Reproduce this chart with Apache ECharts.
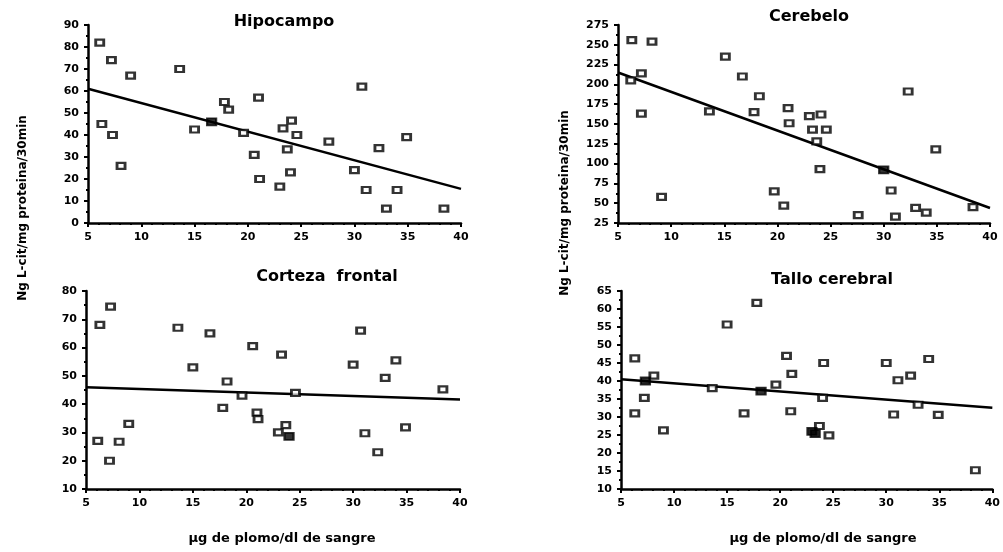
<!DOCTYPE html>
<html>
<head>
<meta charset="utf-8">
<script src="https://cdn.jsdelivr.net/npm/echarts@6/dist/echarts.min.js"></script>
<style>
  html, body {margin: 0; background: #fff;}
  #chart {width: 1003px; height: 552px;}
</style>
</head>
<body>
<div id="chart"></div>
<script>
// blood lead (x) vs L-cit (y), one array per region; solid = points drawn filled
const hipoPts = [[6.1, 82], [7.2, 74], [9.0, 67], [13.6, 70], [6.3, 45], [7.3, 40], [8.1, 26], [15.0, 42.5], [17.8, 55], [18.2, 51.5],
  [19.6, 41], [21.0, 57], [20.6, 31], [21.1, 20], [23.0, 16.5], [23.3, 43], [23.7, 33.5], [24.1, 46.5], [24.0, 23], [24.6, 40],
  [27.6, 37], [30.7, 62], [30.0, 24], [31.1, 15], [32.3, 34], [33.0, 6.5], [34.0, 15], [34.9, 39], [38.4, 6.5]]
const hipoSolid = [[16.6, 46]]
const hipoFit = [[5, 61], [40, 15.5]]

const cerePts = [[6.3, 256], [8.2, 254], [6.2, 205], [7.2, 214], [7.2, 163], [9.1, 58], [13.6, 166], [15.1, 235], [16.7, 210], [17.8, 165],
  [18.3, 185], [19.7, 65], [20.6, 47], [21.0, 170], [21.1, 151], [23.0, 160], [23.3, 143], [23.7, 128], [24.1, 162], [24.0, 93],
  [24.6, 143], [27.6, 35], [30.7, 66], [31.1, 33], [32.3, 191], [33.0, 44], [34.0, 38], [34.9, 118], [38.4, 45]]
const cereSolid = [[30.0, 92]]
const cereFit = [[5, 215], [40, 44]]

const cortPts = [[6.3, 68], [6.1, 27], [7.3, 74.5], [7.2, 20], [8.1, 26.7], [9.0, 33], [13.6, 67], [15.0, 53], [16.6, 65], [17.8, 38.7],
  [18.2, 48], [19.6, 43], [20.6, 60.5], [21.0, 37], [21.1, 34.7], [23.0, 30], [23.3, 57.5], [23.7, 32.6], [24.6, 44], [30.0, 54],
  [30.7, 66], [31.1, 29.7], [32.3, 23], [33.0, 49.3], [34.0, 55.5], [34.9, 31.8], [38.4, 45.2]]
const cortSolid = [[24.0, 28.6]]
const cortFit = [[5, 46], [40, 41.6]]

const talloPts = [[6.3, 46.3], [6.3, 31], [7.2, 35.3], [8.1, 41.5], [9.0, 26.3], [13.6, 38], [15.0, 55.7], [16.6, 31], [17.8, 61.7], [19.6, 39],
  [20.6, 47], [21.1, 42], [21.0, 31.6], [23.7, 27.5], [24.1, 45], [24.0, 35.3], [24.6, 24.9], [30.0, 45], [30.7, 30.7], [31.1, 40.2],
  [32.3, 41.5], [33.0, 33.4], [34.0, 46.1], [34.9, 30.6], [38.4, 15.2]]
const talloSolid = [[7.3, 40], [18.2, 37.2], [23.0, 26], [23.3, 25.4]]
const talloFit = [[5, 40.5], [40, 32.6]]

const titles = ['Hipocampo', 'Cerebelo', 'Corteza  frontal', 'Tallo cerebral']
const yName = 'Ng L-cit/mg proteina/30min'
const xName = 'µg de plomo/dl de sangre'

const panels = [
  {pts: hipoPts, solid: hipoSolid, fit: hipoFit, min: 0, max: 90, step: 10},
  {pts: cerePts, solid: cereSolid, fit: cereFit, min: 25, max: 275, step: 25},
  {pts: cortPts, solid: cortSolid, fit: cortFit, min: 10, max: 80, step: 10},
  {pts: talloPts, solid: talloSolid, fit: talloFit, min: 10, max: 65, step: 5}
]

const font = 'DejaVu Sans'
const grids = [
  {left: 88, top: 25, width: 373, height: 198},
  {left: 618, top: 25, width: 372, height: 198},
  {left: 86, top: 291, width: 374, height: 198},
  {left: 621, top: 291, width: 375, height: 198}
]
const titlePos = [[279, 9], [804, 4], [322, 264], [827, 267]]

const axisCommon = {
  axisLine: {lineStyle: {color: '#000', width: 2.5}},
  axisTick: {length: 4, lineStyle: {color: '#000', width: 2}},
  minorTick: {show: true, length: 2, lineStyle: {color: '#000', width: 2}},
  splitLine: {show: false},
  axisLabel: {color: '#000', fontFamily: font, fontWeight: 'bold', fontSize: 11}
}

const chart = echarts.init(document.getElementById('chart'))
chart.setOption({
  animation: false,
  backgroundColor: '#fff',
  title: titles.map((t, i) => ({
    text: t, left: titlePos[i][0], top: titlePos[i][1], textAlign: 'center',
    textStyle: {fontFamily: font, fontWeight: 'bold', fontSize: 16, color: '#000'}
  })),
  grid: grids,
  xAxis: panels.map((p, i) => ({
    ...axisCommon, type: 'value', gridIndex: i, min: 5, max: 40, interval: 5,
    minorTick: {...axisCommon.minorTick, splitNumber: 5},
    axisLabel: {...axisCommon.axisLabel, margin: 9}
  })),
  yAxis: panels.map((p, i) => ({
    ...axisCommon, type: 'value', gridIndex: i, min: p.min, max: p.max, interval: p.step,
    minorTick: {...axisCommon.minorTick, splitNumber: 2},
    axisLabel: {...axisCommon.axisLabel, margin: 9}
  })),
  graphic: [
    {type: 'text', x: 23, y: 208, rotation: Math.PI / 2,
      style: {text: yName, font: 'bold 12px "DejaVu Sans"', fill: '#000', align: 'center', verticalAlign: 'middle'}},
    {type: 'text', x: 565, y: 203, rotation: Math.PI / 2,
      style: {text: yName, font: 'bold 12px "DejaVu Sans"', fill: '#000', align: 'center', verticalAlign: 'middle'}},
    {type: 'text', x: 282, y: 539,
      style: {text: xName, font: 'bold 13px "DejaVu Sans"', fill: '#000', align: 'center', verticalAlign: 'middle'}},
    {type: 'text', x: 823, y: 539,
      style: {text: xName, font: 'bold 13px "DejaVu Sans"', fill: '#000', align: 'center', verticalAlign: 'middle'}}
  ],
  series: panels.flatMap((p, i) => [
    {type: 'line', xAxisIndex: i, yAxisIndex: i, data: p.fit, symbol: 'none',
      lineStyle: {color: '#000', width: 2.5}, z: 1},
    {type: 'scatter', xAxisIndex: i, yAxisIndex: i, data: p.pts, symbol: 'rect', symbolSize: [8, 6],
      itemStyle: {color: '#fff', borderColor: '#000', borderWidth: 2.5}, z: 3},
    {type: 'scatter', xAxisIndex: i, yAxisIndex: i, data: p.solid, symbol: 'rect', symbolSize: [9, 7],
      itemStyle: {color: '#000', borderColor: '#000', borderWidth: 2}, z: 3}
  ])
})
</script>
</body>
</html>
